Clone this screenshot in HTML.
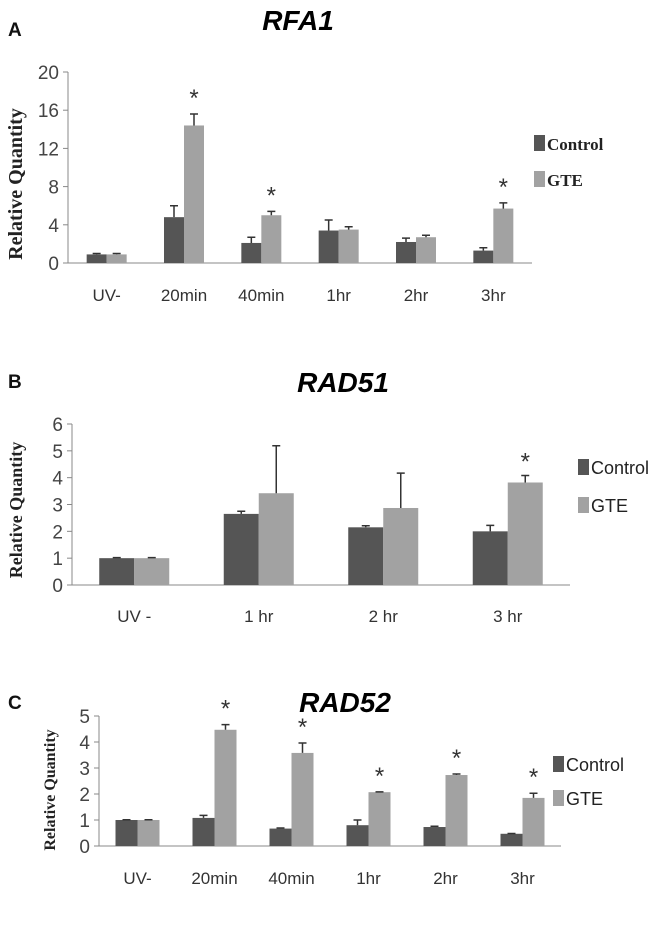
<!DOCTYPE html>
<html><head><meta charset="utf-8"><style>
body{margin:0;background:#fff;}
svg{display:block;font-family:"Liberation Sans",sans-serif;}
</style></head><body>
<svg id="s" width="664" height="944"></svg>
<script>
// Panel A: RFA1
const catsA=["UV-","20min","40min","1hr","2hr","3hr"];
const ctrlA=[0.9,4.8,2.1,3.4,2.2,1.3];
const ctrlErrA=[0.1,1.2,0.6,1.1,0.4,0.3];
const gteA=[0.9,14.4,5.0,3.5,2.7,5.7];
const gteErrA=[0.1,1.2,0.4,0.3,0.2,0.6];
const starA=[0,1,1,0,0,1];
const ticksA=[0,4,8,12,16,20];
// Panel B: RAD51
const catsB=["UV -","1 hr","2 hr","3 hr"];
const ctrlB=[1,2.65,2.15,2.0];
const ctrlErrB=[0.02,0.1,0.06,0.22];
const gteB=[1,3.42,2.87,3.82];
const gteErrB=[0.02,1.77,1.3,0.26];
const starB=[0,0,0,1];
const ticksB=[0,1,2,3,4,5,6];
// Panel C: RAD52
const catsC=["UV-","20min","40min","1hr","2hr","3hr"];
const ctrlC=[1,1.08,0.67,0.8,0.73,0.47];
const ctrlErrC=[0.01,0.1,0.02,0.2,0.03,0.01];
const gteC=[1,4.47,3.58,2.07,2.73,1.85];
const gteErrC=[0.01,0.2,0.38,0.01,0.04,0.18];
const starC=[0,1,1,1,1,1];
const ticksC=[0,1,2,3,4,5];

const svg=document.getElementById('s');
const NS="http://www.w3.org/2000/svg";
function mk(tag,attrs,parent,text){const e=document.createElementNS(NS,tag);for(const k in attrs)e.setAttribute(k,attrs[k]);if(text!==undefined)e.textContent=text;(parent||svg).appendChild(e);return e;}

function panel(cfg,cats,ctrl,ctrlErr,gte,gteErr,stars,ticks){
  const g=mk('g',{});
  
  
  const max=ticks[ticks.length-1];
  const y=v=>cfg.y0-(v/max)*(cfg.y0-cfg.yTop);
  const step=(cfg.x1-cfg.x0)/cats.length;
  const cx=i=>cfg.x0+step*(i+0.5);
  let t=mk('text',{x:cfg.lx,y:cfg.ly,'font-size':19,'font-weight':'bold',fill:'#111'},g,cfg.letter);
  
  
  t=mk('text',{x:cfg.tx,y:cfg.ty,'font-size':28,'font-weight':'bold','font-style':'italic','text-anchor':'middle',fill:'#000'},g,cfg.title);
  
  
  t=mk('text',{transform:`translate(${cfg.yTitleX},${cfg.yTitleY}) rotate(-90)`,'font-size':cfg.yTitleFont,'font-weight':'bold','font-family':'"Liberation Serif",serif','text-anchor':'middle',fill:'#222'},g,'Relative Quantity');
  
  
  const ax=mk('path',{d:`M${cfg.x0},${cfg.yTop}V${cfg.y0}H${cfg.x1}`,stroke:'#888',fill:'none','stroke-width':1},g);
  
  
  ticks.forEach(v=>{
    mk('line',{x1:cfg.x0-5,x2:cfg.x0,y1:y(v),y2:y(v),stroke:'#888'},g);
    const tl=mk('text',{x:cfg.x0-9,y:y(v)+7,'font-size':19,'text-anchor':'end',fill:'#444'},g,v);
    
    
  });
  cats.forEach((c,i)=>{
    const tl=mk('text',{x:cx(i),y:cfg.y0+cfg.labOff,'font-size':17,'text-anchor':'middle',fill:'#333'},g,c);
    
    
    const series=[[ctrl,ctrlErr,'#555',-1],[gte,gteErr,'#a2a2a2',0]];
    series.forEach(([vals,errs,col,off])=>{
      const bx=cx(i)+off*cfg.bw;
      const r=mk('rect',{x:bx,y:y(vals[i]),width:cfg.bw,height:cfg.y0-y(vals[i]),fill:col},g);
      
      
      const ex=bx+cfg.bw/2, et=y(vals[i]+errs[i]);
      mk('path',{d:`M${ex},${y(vals[i])}V${et}M${ex-4},${et}H${ex+4}`,stroke:'#333','stroke-width':1.5,fill:'none'},g);
    });
    if(stars[i]){
      const st=mk('text',{x:cx(i)+cfg.bw/2,y:y(gte[i]+gteErr[i])-cfg.starGap,'font-size':24,'text-anchor':'middle',fill:'#333'},g,'*');
      
      
    }
  });
  [['Control','#555',cfg.legY1],['GTE','#a2a2a2',cfg.legY2]].forEach(([n,col,ly])=>{
    const le=mk('g',{},g);
    
    
    mk('rect',{x:cfg.legX,y:ly-8,width:11,height:16,fill:col},le);
    mk('text',{x:cfg.legX+13,y:ly+7,'font-size':cfg.legFont,'font-family':cfg.legSerif?'"Liberation Serif",serif':'"Liberation Sans",sans-serif','font-weight':cfg.legSerif?'bold':'normal',fill:'#222'},le,n);
  });
}
panel({id:'rfa1',letter:'A',title:'RFA1',lx:8,ly:36,tx:298,ty:30,yTitleX:22,yTitleY:184,yTitleFont:20,x0:68,x1:532,y0:263,yTop:72,bw:20,labOff:38,starGap:8,legX:534,legY1:143,legY2:179,legFont:17,legSerif:true},catsA,ctrlA,ctrlErrA,gteA,gteErrA,starA,ticksA);
panel({id:'rad51',letter:'B',title:'RAD51',lx:8,ly:388,tx:343,ty:392,yTitleX:22,yTitleY:510,yTitleFont:18,x0:72,x1:570,y0:585,yTop:424,bw:35,labOff:37,starGap:6,legX:578,legY1:467,legY2:505,legFont:18,legSerif:false},catsB,ctrlB,ctrlErrB,gteB,gteErrB,starB,ticksB);
panel({id:'rad52',letter:'C',title:'RAD52',lx:8,ly:709,tx:345,ty:712,yTitleX:55,yTitleY:790,yTitleFont:16,x0:99,x1:561,y0:846,yTop:716,bw:22,labOff:38,starGap:8,legX:553,legY1:764,legY2:798,legFont:18,legSerif:false},catsC,ctrlC,ctrlErrC,gteC,gteErrC,starC,ticksC);
</script>
</body></html>
